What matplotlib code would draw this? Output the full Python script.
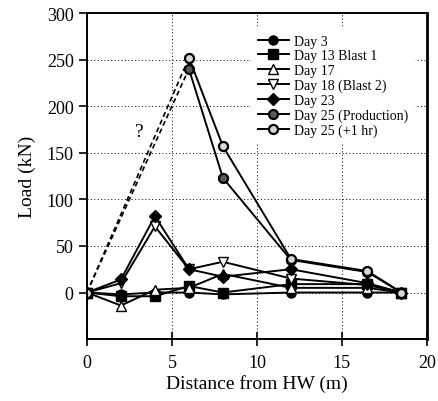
import matplotlib

matplotlib.use("Agg")
import matplotlib.pyplot as plt

plt.rcParams["font.family"] = ["Liberation Serif", "DejaVu Serif"]

distance = [0, 2, 4, 6, 8, 12, 16.5, 18.5]
day3 = [0, -2, 0, 0, -2, 0, 0, 0]
day13 = [0, -4, -4, 7, 0, 9, 9, 0]
day17 = [0, -14, 3, 5, 20, 5, 5, 0]
day18 = [0, 10, 71, 25, 33, 15, 8, 0]
day23 = [0, 14, 82, 25, 17, 25, 10, 0]

dist25 = [0, 6, 8, 12, 16.5, 18.5]
day25_prod = [0, 240, 123, 35, 22, 0]
day25_1hr = [0, 252, 157, 36, 23, 0]

fig = plt.figure(figsize=(4.39, 4.02), dpi=100)
ax = fig.add_axes([0.198, 0.154, 0.7745, 0.811])

ax.grid(True, linestyle=(0, (1, 2.5)), color="black", linewidth=0.7)
ax.set_axisbelow(True)

common = dict(color="black", linewidth=1.4, markersize=6.5, markeredgecolor="black")
ax.plot(distance, day3, marker="o", markerfacecolor="black", label="Day 3", **common)
ax.plot(distance, day13, marker="s", markerfacecolor="black", label="Day 13 Blast 1", **common)
ax.plot(distance, day17, marker="^", markerfacecolor="white", label="Day 17", **common)
ax.plot(distance, day18, marker="v", markerfacecolor="white", label="Day 18 (Blast 2)", **common)
ax.plot(distance, day23, marker="D", markerfacecolor="black", markersize=6, color="black",
        linewidth=1.4, markeredgecolor="black", label="Day 23")

# Day 25 readings: no gauges between HW and 6 m, so the rise is drawn dashed
for vals, face, lab in [(day25_prod, "0.35", "Day 25 (Production)"),
                        (day25_1hr, "0.85", "Day 25 (+1 hr)")]:
    ax.plot(dist25[:2], vals[:2], color="black", linestyle=(0, (3, 2)), linewidth=1.2)
    ax.plot(dist25[1:], vals[1:], color="black", linewidth=1.4)
    ax.plot(dist25, vals, linestyle="none", marker="o", markersize=6.5,
            markerfacecolor=face, markeredgecolor="black", markeredgewidth=1.6)
    ax.plot([], [], color="black", linewidth=1.4, marker="o", markersize=6.5,
            markerfacecolor=face, markeredgecolor="black", markeredgewidth=1.6, label=lab)

ax.text(3.1, 173, "?", fontsize=14, ha="center", va="center")

ax.set_xlim(0, 20)
ax.set_ylim(-50, 300)
ax.set_xticks([0, 5, 10, 15, 20])
ax.set_yticks([0, 50, 100, 150, 200, 250, 300])
ax.tick_params(axis="y", direction="out", length=6, width=1.2, labelsize=13)
ax.tick_params(axis="x", direction="inout", length=10, width=1.2, labelsize=13, pad=6)
for s in ax.spines.values():
    s.set_linewidth(1.4)
ax.spines["right"].set_linewidth(2)

ax.set_xlabel("Distance from HW (m)", fontsize=14, labelpad=2)
ax.set_ylabel("Load (kN)", fontsize=14, labelpad=8)

leg = ax.legend(loc="upper left", bbox_to_anchor=(0.483, 0.955), frameon=True, fontsize=10,
                handlelength=2.2, handletextpad=0.4, labelspacing=0.12, borderaxespad=0,
                borderpad=0.5, fancybox=False, framealpha=1)
leg.get_frame().set_edgecolor("none")
leg.get_frame().set_facecolor("white")

fig.savefig("out.png", dpi=100)
